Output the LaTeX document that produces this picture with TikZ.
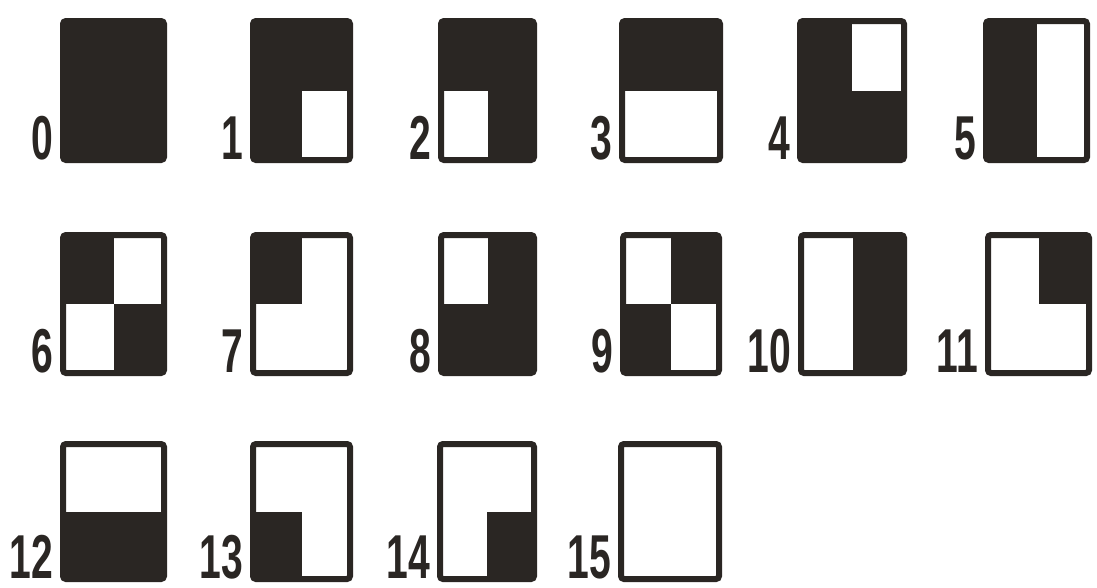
\documentclass[tikz,border=0pt]{standalone}
\usepackage{graphicx}
\usepackage{fontspec}
\setmainfont{Liberation Sans}
\definecolor{ink}{RGB}{42,38,35}
\tikzset{
  tilebox/.style={draw=ink, line width=6pt, rounded corners=3pt, inner sep=0pt, fill=none},
  quad/.style={fill=ink},
  lab/.style={text=ink, inner sep=0pt, font=\fontsize{62}{62}\selectfont\bfseries, anchor=base east}
}
% #1 number, #2 left, #3 top, #4 right, #5 bottom, #6 TL, #7 TR, #8 BL, #9 BR (1 = black)
\newcommand\mytile[9]{%
  \coordinate (c#1) at ({(#2+#4)/2},{(#3+#5)/2});
  \ifnum#6=1 \fill[quad] ({#2+4},{#3+4}) rectangle (c#1);\fi
  \ifnum#7=1 \fill[quad] ({#4-4},{#3+4}) rectangle (c#1);\fi
  \ifnum#8=1 \fill[quad] ({#2+4},{#5-4}) rectangle (c#1);\fi
  \ifnum#9=1 \fill[quad] ({#4-4},{#5-4}) rectangle (c#1);\fi
  \node[tilebox, minimum width={(#4-#2-6)*1pt}, minimum height={(#5-#3-6)*1pt}] (t#1) at (c#1) {};
  \node[lab] (l#1) at ({#2-7},{#5-4}) {\scalebox{0.63}[1]{#1}};
}
\begin{document}
\begin{tikzpicture}[x=1pt,y=-1pt]
\useasboundingbox (0,0) rectangle (1097,587);
\fill[white] (0,0) rectangle (1097,587);
% row 1
\mytile{0}{60}{18}{167}{163}{1}{1}{1}{1}
\mytile{1}{250}{18}{353}{163}{1}{1}{1}{0}
\mytile{2}{438}{18}{537}{163}{1}{1}{0}{1}
\mytile{3}{619}{18}{723}{163}{1}{1}{0}{0}
\mytile{4}{797}{18}{907}{163}{1}{0}{1}{1}
\mytile{5}{983}{18}{1090}{163}{1}{0}{1}{0}
% row 2
\mytile{6}{60}{232}{167}{376}{1}{0}{0}{1}
\mytile{7}{250}{232}{353}{376}{1}{0}{0}{0}
\mytile{8}{438}{232}{537}{376}{0}{1}{1}{1}
\mytile{9}{620}{232}{722}{376}{0}{1}{1}{0}
\mytile{10}{798}{232}{907}{376}{0}{1}{0}{1}
\mytile{11}{985}{232}{1092}{376}{0}{1}{0}{0}
% row 3
\mytile{12}{60}{441}{167}{582}{0}{0}{1}{1}
\mytile{13}{250}{441}{353}{582}{0}{0}{1}{0}
\mytile{14}{437}{441}{537}{582}{0}{0}{0}{1}
\mytile{15}{618}{441}{722}{582}{0}{0}{0}{0}
\end{tikzpicture}
\end{document}
